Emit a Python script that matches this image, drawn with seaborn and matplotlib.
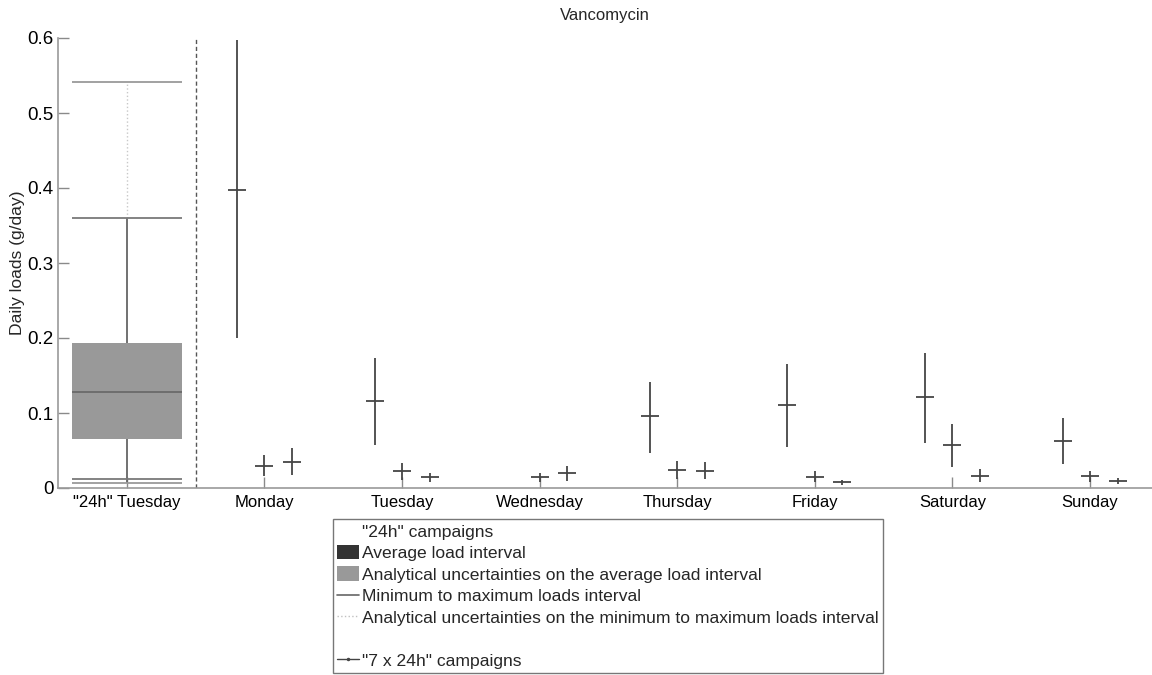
import numpy as np
import pandas as pd
import matplotlib
matplotlib.use("Agg")
import matplotlib.pyplot as plt
import seaborn as sns
from matplotlib.lines import Line2D
from matplotlib.patches import Patch

# ---- data -------------------------------------------------------------
box_label = '"24h" Tuesday'
weekdays = ["Monday", "Tuesday", "Wednesday", "Thursday", "Friday", "Saturday", "Sunday"]

# "24h" campaigns summary (g/day)
avg_q1, avg_median, avg_q3 = 0.065, 0.128, 0.193
minmax_lo, minmax_hi = 0.0116, 0.360
unc_lo, unc_hi = 0.0063, 0.541

# "7 x 24h" campaigns: three campaigns per weekday (centre, low, high)
mid_a = [0.398, 0.1165, np.nan, 0.096, 0.111, 0.121, 0.063]
lo_a = [0.200, 0.057, np.nan, 0.047, 0.055, 0.060, 0.032]
hi_a = [0.597, 0.173, np.nan, 0.142, 0.165, 0.180, 0.093]

mid_b = [0.030, 0.0227, 0.0142, 0.024, 0.0151, 0.057, 0.016]
lo_b = [0.016, 0.011, 0.008, 0.012, 0.008, 0.028, 0.008]
hi_b = [0.044, 0.034, 0.0204, 0.036, 0.0227, 0.085, 0.023]

mid_c = [0.035, 0.0142, 0.0204, 0.0231, 0.0076, 0.0164, 0.009]
lo_c = [0.017, 0.0076, 0.0098, 0.0116, 0.004, 0.0084, 0.005]
hi_c = [0.053, 0.0204, 0.029, 0.0342, 0.0107, 0.0249, 0.013]

ytick_values = [0, 0.1, 0.2, 0.3, 0.4, 0.5, 0.6]
ytick_labels = ["0", "0.1", "0.2", "0.3", "0.4", "0.5", "0.6"]

# ---- long table for the weekly campaigns -------------------------------
offsets = [-0.2, 0.0, 0.2]
rows = []
for off, mids, los, his in zip(offsets, [mid_a, mid_b, mid_c], [lo_a, lo_b, lo_c], [hi_a, hi_b, hi_c]):
    for i, day in enumerate(weekdays):
        rows.append({"x": i + 1 + off, "mid": mids[i], "lo": los[i], "hi": his[i]})
weekly = pd.DataFrame(rows).dropna()

# ---- figure -----------------------------------------------------------
sns.set_theme(style="white")
plt.rcParams["font.family"] = ["Liberation Sans", "DejaVu Sans"]

W, H = 1152, 675
fig = plt.figure(figsize=(W / 100, H / 100), dpi=100)
ax = fig.add_axes([58 / W, 1 - 488 / H, 1 - 58 / W, 450 / H])

# "24h" box: analytical-uncertainty band of the average load
ax.bar(0, avg_q3 - avg_q1, bottom=avg_q1, width=0.8, color="#999999", edgecolor="none", zorder=2)
ax.hlines(avg_median, -0.4, 0.4, color="#6a6a6a", lw=1.3, zorder=3)
ax.vlines(0, avg_q3, minmax_hi, color="#666666", lw=1.3, zorder=3)
ax.vlines(0, unc_lo, avg_q1, color="#666666", lw=1.3, zorder=3)
ax.vlines(0, minmax_hi, unc_hi, color="#c8c8c8", lw=1.0, ls=":", zorder=3)
ax.hlines([minmax_lo, minmax_hi], -0.4, 0.4, color="#7a7a7a", lw=1.3, zorder=3)
ax.hlines([unc_lo, unc_hi], -0.4, 0.4, color="#9a9a9a", lw=1.3, zorder=3)

# separator between the two campaign types
ax.vlines(0.5, 0, 0.6, color="#555555", lw=1.0, ls=(0, (3, 2)), zorder=2)

# weekly campaigns: min-max ranges and centre values
ax.vlines(weekly["x"], weekly["lo"], weekly["hi"], color="#454545", lw=1.3, zorder=3)
sns.scatterplot(data=weekly, x="x", y="mid", marker="_", s=170, color="#454545",
                linewidth=1.3, ax=ax, zorder=4, legend=False)

# ---- axes styling -----------------------------------------------------
ax.set_xlim(-0.5, 7.45)
ax.set_ylim(0, 0.6)
ax.set_xticks(range(len(weekdays) + 1))
ax.set_xticklabels([box_label] + weekdays, fontsize=12)
ax.set_yticks(ytick_values)
ax.set_yticklabels(ytick_labels, fontsize=13.5)
ax.set_xlabel("")
ax.set_ylabel("Daily loads (g/day)", fontsize=12.6, labelpad=2)
ax.set_title("Vancomycin", fontsize=12, pad=13)

for side in ("top", "right"):
    ax.spines[side].set_visible(False)
for side in ("left", "bottom"):
    ax.spines[side].set_color("#9a9a9a")
    ax.spines[side].set_linewidth(1.2)

ax.tick_params(axis="both", direction="in", length=8, width=1.0, color="#8a8a8a",
               labelcolor="black")
ax.tick_params(axis="x", bottom=True, pad=5)
ax.tick_params(axis="y", left=True, pad=3)

# ---- legend -----------------------------------------------------------
blank = Line2D([], [], color="none")
handles = [
    blank,
    Patch(facecolor="#333333", edgecolor="none"),
    Patch(facecolor="#999999", edgecolor="none"),
    Line2D([], [], color="#666666", lw=1.2),
    Line2D([], [], color="#c0c0c0", lw=1.0, ls=":"),
    blank,
    Line2D([], [], color="#444444", lw=1.0, marker=".", markersize=3),
]
labels = [
    '"24h" campaigns',
    "Average load interval",
    "Analytical uncertainties on the average load interval",
    "Minimum to maximum loads interval",
    "Analytical uncertainties on the minimum to maximum loads interval",
    "",
    '"7 x 24h" campaigns',
]
leg = fig.legend(handles, labels, loc="upper left",
                 bbox_to_anchor=(333 / W, 1 - 519 / H), frameon=True, fancybox=False,
                 framealpha=1, edgecolor="#777777", fontsize=12.6, handlelength=1.25,
                 handleheight=0.9, handletextpad=0.15, labelspacing=0.3,
                 borderpad=0.25, borderaxespad=0)
leg.get_frame().set_linewidth(1.0)

fig.savefig("out.png", dpi=100)
